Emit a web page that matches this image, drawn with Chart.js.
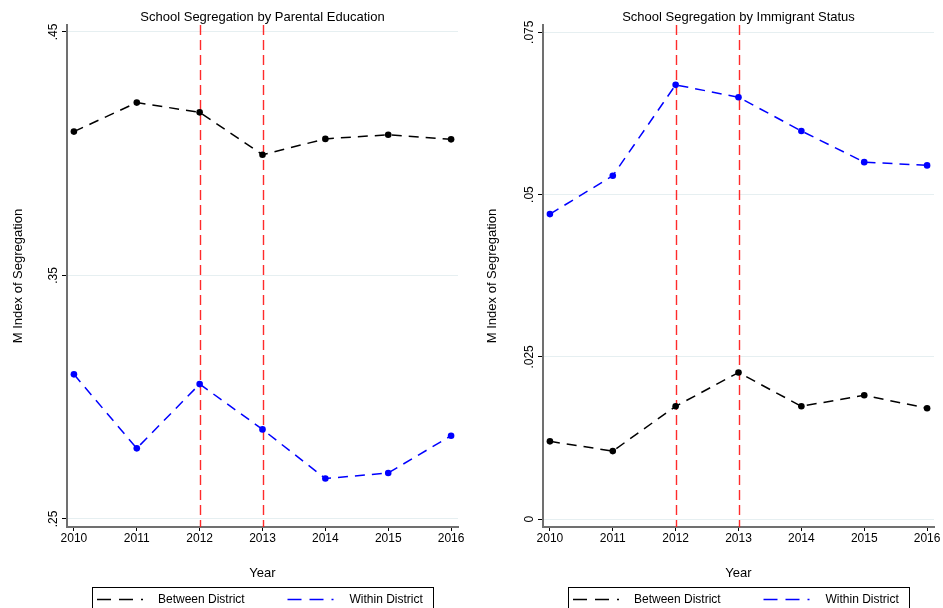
<!DOCTYPE html>
<html>
<head>
<meta charset="utf-8">
<script src="https://cdn.jsdelivr.net/npm/chart.js@4/dist/chart.umd.min.js"></script>
<style>
  html, body { margin: 0; padding: 0; background: #fff; overflow: hidden; }
  #wrap { position: relative; width: 943px; height: 608px; }
  .pane { position: absolute; top: 0; }
</style>
</head>
<body>
<div id="wrap">
  <div class="pane" style="left:0"><canvas id="c1" width="471" height="608"></canvas></div>
  <div class="pane" style="left:471px"><canvas id="c2" width="472" height="608"></canvas></div>
</div>
<script>
// ---------- data ----------
const years = [2010, 2011, 2012, 2013, 2014, 2015, 2016];
const eduBetween = [0.4091, 0.4210, 0.4170, 0.3996, 0.4061, 0.4078, 0.4059];
const eduWithin  = [0.3094, 0.2790, 0.3054, 0.2868, 0.2666, 0.2689, 0.2842];
const immBetween = [0.0120, 0.0105, 0.0174, 0.0226, 0.0174, 0.0191, 0.0171];
const immWithin  = [0.0470, 0.0529, 0.0669, 0.0650, 0.0598, 0.0550, 0.0545];
const eduTicks = [0.25, 0.35, 0.45];
const eduTickLabels = ['.25', '.35', '.45'];
const immTicks = [0, 0.025, 0.05, 0.075];
const immTickLabels = ['0', '.025', '.05', '.075'];
const policyYears = [2012, 2013];
const seriesNames = ['Between District', 'Within District'];
const titles = ['School Segregation by Parental Education', 'School Segregation by Immigrant Status'];
const xTitle = 'Year';
const yTitle = 'M Index of Segregation';

// ---------- styling ----------
Chart.defaults.font.family = "'Liberation Sans', Arial, Helvetica, sans-serif";
Chart.defaults.color = '#000';

const refLinesPlugin = {
  id: 'refLines',
  beforeDatasetsDraw(chart) {
    const {ctx, chartArea, scales} = chart;
    ctx.save();
    ctx.strokeStyle = 'rgba(255,20,20,0.9)';
    ctx.lineWidth = 1.4;
    ctx.setLineDash([10, 5]);
    policyYears.forEach(yr => {
      const px = Math.round(scales.x.getPixelForValue(yr)) + 0.5;
      ctx.beginPath();
      ctx.moveTo(px, chartArea.top);
      ctx.lineTo(px, chartArea.bottom);
      ctx.stroke();
    });
    ctx.restore();
  }
};

const boxLegendPlugin = {
  id: 'boxLegend',
  afterDraw(chart) {
    const {ctx, chartArea} = chart;
    const ds = chart.data.datasets;
    const boxW = 341;
    const cx = (chartArea.left + chartArea.right) / 2;
    const left = Math.round(cx - boxW / 2) + 0.5;
    const top = 587.5;
    ctx.save();
    ctx.strokeStyle = '#000';
    ctx.lineWidth = 1;
    ctx.setLineDash([]);
    ctx.strokeRect(left, top, boxW, 30);
    const items = [{s: 4.5, t: 65.5}, {s: 195, t: 257}];
    const y = 599.5;
    items.forEach((it, i) => {
      ctx.strokeStyle = ds[i].borderColor;
      ctx.lineWidth = 1.5;
      ctx.setLineDash([14, 8]);
      ctx.beginPath();
      ctx.moveTo(left + it.s, y);
      ctx.lineTo(left + it.s + 46, y);
      ctx.stroke();
      ctx.setLineDash([]);
      ctx.fillStyle = '#000';
      ctx.font = "12px 'Liberation Sans', Arial, sans-serif";
      ctx.textBaseline = 'middle';
      ctx.textAlign = 'left';
      ctx.fillText(ds[i].label, left + it.t, y);
    });
    ctx.restore();
  }
};

function makeChart(id, cfg) {
  const mk = (label, vals, color) => ({
    label: label,
    data: years.map((yr, i) => ({x: yr, y: vals[i]})),
    borderColor: color,
    backgroundColor: color,
    pointBackgroundColor: color,
    pointBorderColor: color,
    borderWidth: 1.5,
    borderDash: [10, 7],
    pointRadius: 3.3,
    pointBorderWidth: 0,
    tension: 0,
    fill: false
  });
  return new Chart(document.getElementById(id), {
    type: 'line',
    data: {
      datasets: [
        mk(seriesNames[0], cfg.between, '#000000'),
        mk(seriesNames[1], cfg.within, '#0000ff')
      ]
    },
    options: {
      responsive: false,
      animation: false,
      devicePixelRatio: 1,
      layout: {padding: {left: 0, right: cfg.padRight, top: 0, bottom: 0}},
      plugins: {
        legend: {display: false},
        tooltip: {enabled: false},
        title: {
          display: true, text: cfg.title, fullSize: false, color: '#000',
          font: {size: 13, weight: 'normal'},
          padding: {top: 9.4, bottom: 0}
        }
      },
      scales: {
        x: {
          type: 'linear', min: 2009.89, max: 2016.11,
          afterBuildTicks: s => { s.ticks = years.map(v => ({value: v})); },
          afterFit: s => { s.height = 81; },
          grid: {drawOnChartArea: false, drawTicks: true, tickLength: 4, tickColor: '#000', tickWidth: 1},
          border: {color: '#707070', width: 2},
          ticks: {color: '#000', font: {size: 12}, padding: 0, maxRotation: 0, minRotation: 0, autoSkip: false,
                  callback: v => String(v)},
          title: {display: true, text: xTitle, color: '#000', font: {size: 13}, padding: {top: 0, bottom: 27}}
        },
        y: {
          type: 'linear', min: cfg.yMin, max: cfg.yMax,
          afterBuildTicks: s => { s.ticks = cfg.ticks.map(v => ({value: v})); },
          afterFit: s => { s.width = cfg.axisW; },
          grid: {color: '#e6eff1', lineWidth: 1, tickLength: 5, tickColor: '#000', tickWidth: 1},
          border: {color: '#707070', width: 2},
          ticks: {color: '#000', font: {size: 12}, minRotation: 90, maxRotation: 90, crossAlign: 'center',
                  padding: cfg.yPad,
                  callback: v => { const k = cfg.ticks.findIndex(t => Math.abs(t - v) < 1e-9); return k >= 0 ? cfg.tickLabels[k] : ''; }},
          title: {display: true, text: yTitle, color: '#000', font: {size: 13}, padding: {top: cfg.yTitlePad, bottom: 0}}
        }
      }
    },
    plugins: [refLinesPlugin, boxLegendPlugin]
  });
}

makeChart('c1', {
  title: titles[0], between: eduBetween, within: eduWithin,
  ticks: eduTicks, tickLabels: eduTickLabels,
  yMin: 0.24671, yMax: 0.45287, axisW: 67, padRight: 13, yPad: 0, yTitlePad: 10.2
});
makeChart('c2', {
  title: titles[1], between: immBetween, within: immWithin,
  ticks: immTicks, tickLabels: immTickLabels,
  yMin: -0.00119, yMax: 0.07612, axisW: 72, padRight: 9, yPad: -3.4, yTitlePad: 14
});
</script>
</body>
</html>
